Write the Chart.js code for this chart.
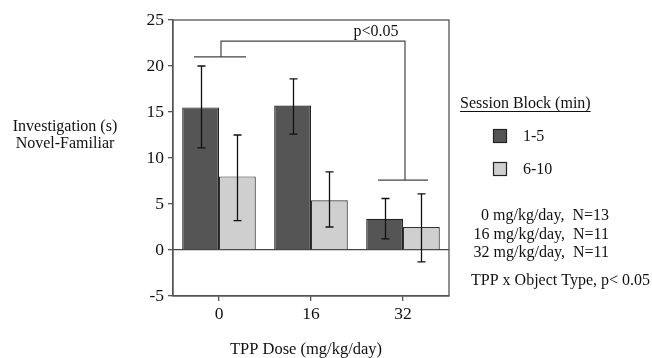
<!DOCTYPE html>
<html>
<head>
<meta charset="utf-8">
<script src="https://cdn.jsdelivr.net/npm/chart.js@4/dist/chart.umd.min.js"></script>
<style>
  html, body { margin: 0; padding: 0; background: #fff; }
  #wrap { width: 652px; height: 358px; }
</style>
</head>
<body>
<div id="wrap"><canvas id="chart" width="652" height="358"></canvas></div>
<script>
const doses = ["0", "16", "32"];
const early = [15.5, 15.7, 3.4];      // 1-5 min
const late = [8.0, 5.4, 2.5];         // 6-10 min
const earlyHi = [20.0, 18.6, 5.6];
const earlyLo = [11.1, 12.6, 1.2];
const lateHi = [12.5, 8.5, 6.1];
const lateLo = [3.2, 2.5, -1.3];
const yTicks = [-5, 0, 5, 10, 15, 20, 25];
const groupLines = [21.0, 7.6];       // short bars over 0 and 32
const bracketTop = 22.7;
const notes = ["0 mg/kg/day,  N=13", "16 mg/kg/day,  N=11", "32 mg/kg/day,  N=11"];

const FONT = "'Liberation Serif', 'DejaVu Serif', serif";

const errorBars = {
  id: "errorBars",
  afterDatasetsDraw(chart) {
    const { ctx } = chart;
    const y = chart.scales.y;
    const sets = [[earlyHi, earlyLo], [lateHi, lateLo]];
    ctx.save();
    ctx.strokeStyle = "#111";
    ctx.lineWidth = 1.3;
    sets.forEach(([hi, lo], d) => {
      chart.getDatasetMeta(d).data.forEach((bar, i) => {
        const x = Math.round(bar.x) + 0.5;
        const t = y.getPixelForValue(hi[i]);
        const b = y.getPixelForValue(lo[i]);
        ctx.beginPath();
        ctx.moveTo(x, t); ctx.lineTo(x, b);
        ctx.moveTo(x - 4, t); ctx.lineTo(x + 4, t);
        ctx.moveTo(x - 4, b); ctx.lineTo(x + 4, b);
        ctx.stroke();
      });
    });
    ctx.restore();
  }
};

const extras = {
  id: "extras",
  afterDraw(chart) {
    const { ctx, chartArea: a } = chart;
    const x = chart.scales.x, y = chart.scales.y;
    ctx.save();
    // box
    ctx.strokeStyle = "#555";
    ctx.lineWidth = 1.3;
    ctx.strokeRect(a.left, a.top, a.right - a.left, a.bottom - a.top);

    // significance bracket
    ctx.strokeStyle = "#444";
    ctx.lineWidth = 1.2;
    const x0 = x.getPixelForValue(0), x2 = x.getPixelForValue(2);
    const g0 = y.getPixelForValue(groupLines[0]);
    const g2 = y.getPixelForValue(groupLines[1]);
    const top = y.getPixelForValue(bracketTop);
    ctx.beginPath();
    ctx.moveTo(x0 - 25, g0); ctx.lineTo(x0 + 27, g0);
    ctx.moveTo(x0 + 2, g0); ctx.lineTo(x0 + 2, top); ctx.lineTo(x2 + 2, top); ctx.lineTo(x2 + 2, g2);
    ctx.moveTo(x2 - 25, g2); ctx.lineTo(x2 + 25, g2);
    ctx.stroke();

    ctx.fillStyle = "#111";
    ctx.font = "16px " + FONT;
    ctx.textAlign = "center";
    ctx.textBaseline = "alphabetic";
    ctx.fillText("p<0.05", 376, 36);

    // axis titles
    ctx.fillText("Investigation (s)", 65, 131);
    ctx.fillText("Novel-Familiar", 65, 148);
    ctx.font = "16.5px " + FONT;
    ctx.fillText("TPP Dose (mg/kg/day)", 306, 354);

    // legend
    ctx.font = "16px " + FONT;
    ctx.textAlign = "left";
    ctx.fillText("Session Block (min)", 460, 108);
    const w = ctx.measureText("Session Block (min)").width;
    ctx.fillRect(460, 111, w, 1);
    const sw = [["#555", "1-5", 129], ["#cfcfcf", "6-10", 162]];
    sw.forEach(([c, t, yy]) => {
      ctx.fillStyle = c;
      ctx.fillRect(493, yy, 14, 14);
      ctx.strokeStyle = "#222";
      ctx.lineWidth = 1.2;
      ctx.strokeRect(493.5, yy + 0.5, 13, 13);
      ctx.fillStyle = "#111";
      ctx.fillText(t, 523, yy + 12);
    });

    ctx.textAlign = "right";
    notes.forEach((n, i) => ctx.fillText(n, 609, 220 + i * 18.5));
    ctx.textAlign = "left";
    ctx.fillText("TPP x Object Type, p< 0.05", 471, 285);
    ctx.restore();
  }
};

new Chart(document.getElementById("chart"), {
  type: "bar",
  data: {
    labels: doses,
    datasets: [
      { label: "1-5", data: early, backgroundColor: "#555", borderColor: "#222", borderWidth: 1.2 },
      { label: "6-10", data: late, backgroundColor: "#cfcfcf", borderColor: "#333", borderWidth: 1.2 }
    ]
  },
  options: {
    responsive: false,
    animation: false,
    categoryPercentage: 0.8,
    barPercentage: 1.0,
    layout: { padding: { left: 123, right: 203, top: 20, bottom: 0 } },
    plugins: { legend: { display: false }, tooltip: { enabled: false } },
    scales: {
      x: {
        grid: { offset: false, drawOnChartArea: false, tickLength: 5, color: "#555", lineWidth: 1.3 },
        border: { color: "#555", width: 1.3 },
        ticks: { color: "#111", font: { family: FONT, size: 17.5 }, padding: 3 },
        afterFit(s) { s.height = 62; }
      },
      y: {
        min: -5, max: 25,
        afterBuildTicks(s) { s.ticks = yTicks.map(v => ({ value: v })); },
        grid: {
          tickLength: 5,
          color: c => (c.tick && c.tick.value === 0 ? "#444" : "transparent"),
          tickColor: "#555",
          lineWidth: 1.3
        },
        border: { color: "#555", width: 1.3 },
        ticks: { color: "#111", font: { family: FONT, size: 17.5 }, padding: 4 },
        afterFit(s) { s.width = 50; }
      }
    }
  },
  plugins: [errorBars, extras]
});
</script>
</body>
</html>
